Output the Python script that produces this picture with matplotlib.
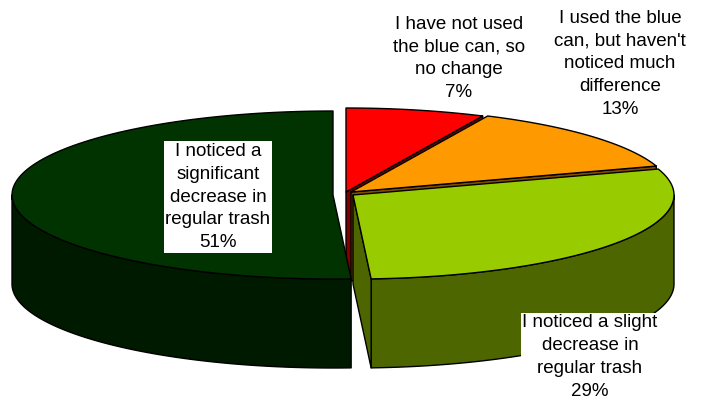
import numpy as np
import matplotlib
matplotlib.use("Agg")
import matplotlib.pyplot as plt
from matplotlib.patches import Polygon

plt.rcParams["font.family"] = ["Liberation Sans", "DejaVu Sans"]

# -------------------------
# Data
# -------------------------
labels = [
    "I have not used\nthe blue can, so\nno change",
    "I used the blue\ncan, but haven't\nnoticed much\ndifference",
    "I noticed a slight\ndecrease in\nregular trash",
    "I noticed a\nsignificant\ndecrease in\nregular trash",
]
values = [7, 13, 29.1, 50.9]

top_colors = ["#FF0000", "#FF9900", "#99CC00", "#003300"]
side_colors = ["#800000", "#804D00", "#4D6600", "#001A00"]

# exploded centre of each slice, in pixels
centers = [(346, 192), (351, 192), (353, 195), (333, 195)]
label_pos = [(459, 58.5), (620, 64), (590, 357), (218, 197)]
label_bg = [False, False, True, True]

RX, RY = 321, 84
DEPTH = 89

# -------------------------
# Helpers
# -------------------------
def rim(cx, cy, a0, a1):
    # clockwise from 12 o'clock, degrees
    t = np.radians(np.linspace(a0, a1, 120))
    return np.column_stack([cx + RX * np.sin(t), cy - RY * np.cos(t)])


def draw(ax, pts, color, z):
    ax.add_patch(Polygon(pts, closed=True, facecolor=color, edgecolor="black",
                         linewidth=1.0, joinstyle="round", zorder=z))


# -------------------------
# Plot
# -------------------------
fig = plt.figure(figsize=(7.08, 4.0), dpi=100)
ax = fig.add_axes([0, 0, 1, 1])
ax.set_xlim(0, 708)
ax.set_ylim(400, 0)
ax.axis("off")

edges = np.concatenate([[0], np.cumsum(values)]) / sum(values) * 360
down = np.array([0, DEPTH])

for i in range(len(values)):
    a0, a1 = edges[i], edges[i + 1]
    cx, cy = centers[i]
    apex = np.array([cx, cy])
    z = 3 * i + 1

    # wall along the cut edge that shows in the gaps
    if i < 3:
        end = rim(cx, cy, a1, a1)[0]
        draw(ax, [apex, end, end + down, apex + down], side_colors[i], z + 1)

    # outer wall, only the part facing the viewer
    lo, hi = max(a0, 90), min(a1, 270)
    if hi > lo:
        arc = rim(cx, cy, lo, hi)
        draw(ax, np.vstack([arc, (arc + down)[::-1]]), side_colors[i], z)

    # top face
    draw(ax, np.vstack([[apex], rim(cx, cy, a0, a1)]), top_colors[i], z + 2)

# -------------------------
# Labels
# -------------------------
for i, (txt, val) in enumerate(zip(labels, values)):
    bbox = dict(facecolor="white", edgecolor="none", pad=1) if label_bg[i] else None
    ax.text(label_pos[i][0], label_pos[i][1], f"{txt}\n{val:.0f}%", ha="center", va="center",
            fontsize=13.5, linespacing=1.46, color="black", bbox=bbox, zorder=20)

fig.savefig("out.png", dpi=100)
